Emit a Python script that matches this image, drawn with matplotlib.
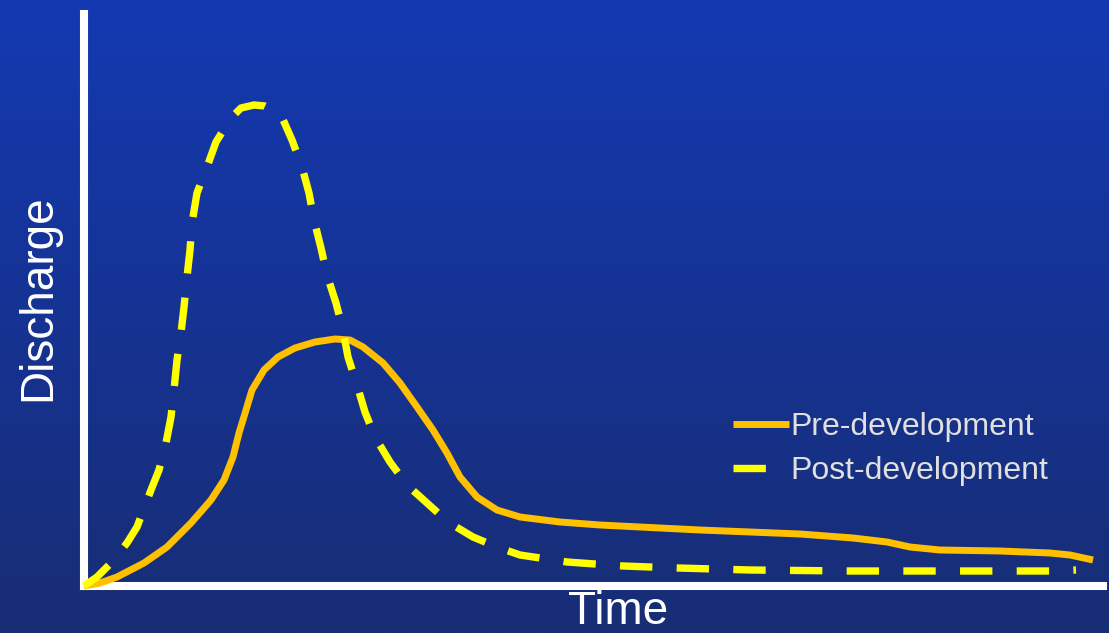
import numpy as np
import matplotlib
matplotlib.use("Agg")
from matplotlib import pyplot as plt

plt.rcParams['font.family'] = ['Liberation Sans', 'DejaVu Sans']

# hydrograph, arbitrary units
pre_t = [0, 16, 33, 60, 83, 107, 127, 140, 149, 155, 162, 168, 180, 194, 211, 231,
         251, 266, 279, 299, 316, 333, 349, 363, 376, 393, 413, 436, 476, 516, 616,
         716, 769, 803, 826, 856, 916, 966, 986, 1009]
pre_q = [0, 3, 9, 23, 39, 63, 86, 106, 129, 153, 176, 196, 216, 229, 238, 244,
         247, 246, 239, 223, 203, 179, 156, 133, 109, 89, 76, 69, 64, 61, 56,
         52, 48, 44, 39, 36, 35, 33, 31, 26]

post_t = [0, 13, 28, 43, 53, 67, 75, 82, 87, 90, 93, 97, 100, 103, 106, 108, 113,
          123, 132, 147, 157, 170, 181, 190, 197, 208, 218, 225, 230, 237, 243, 252,
          259, 264, 273, 281, 291, 306, 323, 343, 364, 389, 413, 436, 483, 539, 594,
          666, 766, 866, 966, 992]
post_q = [0, 9, 24, 43, 59, 96, 116, 143, 169, 196, 226, 253, 279, 309, 336, 363, 393,
          419, 444, 468, 478, 481, 480, 476, 471, 446, 419, 393, 366, 338, 311, 283,
          256, 229, 201, 174, 149, 124, 101, 83, 64, 49, 39, 31, 24, 20, 18,
          16, 15, 15, 15, 16]

W, H = 1109, 633
fig = plt.figure(figsize=(W / 100, H / 100), dpi=100)

# blue gradient backdrop
bg = fig.add_axes([0, 0, 1, 1], zorder=-10)
top = np.array([20, 57, 178]) / 255
bot = np.array([24, 45, 116]) / 255
f = np.linspace(0, 1, 256)[:, None]
grad = top * (1 - f) + bot * f
bg.imshow(grad[:, None, :], aspect='auto', extent=[0, 1, 0, 1])
bg.axis('off')

ax = fig.add_axes([84 / W, (H - 586) / H, 1019 / W, 572 / H])
ax.patch.set_alpha(0)
ax.plot(pre_t, pre_q, color='#FFC000', lw=5, solid_capstyle='butt',
        solid_joinstyle='round', label='Pre-development', clip_on=False)
ax.plot(post_t, post_q, color='#FFFF00', lw=5.3, linestyle=(0, (4.4, 3.3)),
        dash_capstyle='butt', dash_joinstyle='round',
        label='Post-development', clip_on=False)
ax.set_xlim(0, 1019)
ax.set_ylim(0, 572)
ax.set_xticks([])
ax.set_yticks([])
for s in ['top', 'right']:
    ax.spines[s].set_visible(False)
for s in ['left', 'bottom']:
    ax.spines[s].set_color('white')
    ax.spines[s].set_linewidth(5.8)
    ax.spines[s].set_zorder(0)

fig.text(38 / W, 1 - 298 / H, 'Discharge', rotation=90, color='white',
         fontsize=33, ha='center', va='center')
fig.text(618 / W, 1 - 612 / H, 'Time', color='white', fontsize=33,
         ha='center', va='center')

leg = ax.legend(loc='center left', bbox_to_anchor=(733 / W, 1 - 449 / H),
                bbox_transform=fig.transFigure, frameon=False, fontsize=23,
                handlelength=1.75, handletextpad=0.05, labelspacing=0.42,
                borderpad=0, borderaxespad=0)
for t in leg.get_texts():
    t.set_color('#E0E0E0')

plt.savefig("out.png", dpi=100)
